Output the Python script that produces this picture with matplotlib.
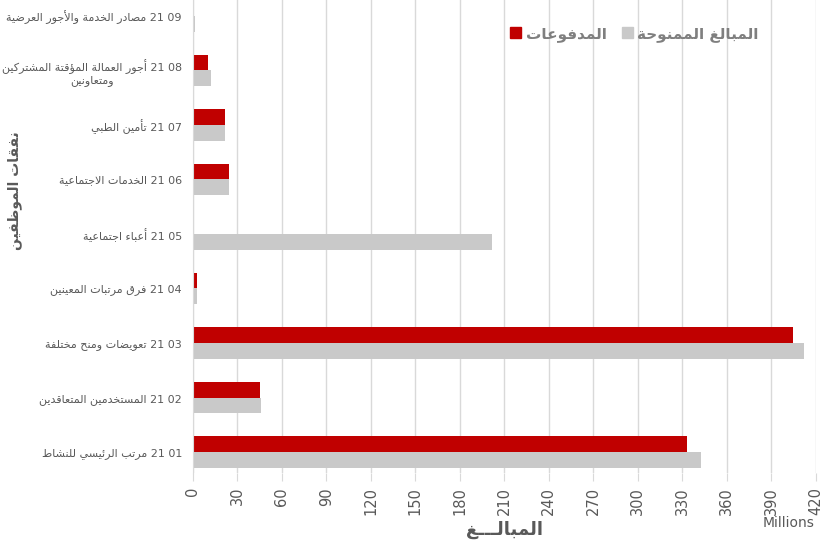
import matplotlib
matplotlib.use("Agg")
import matplotlib.pyplot as plt
from matplotlib.patches import Patch

codes = ["21 01", "21 02", "21 03", "21 04", "21 05", "21 06", "21 07", "21 08", "21 09"]
names = ["مرتب الرئيسي للنشاط", "المستخدمين المتعاقدين", "تعويضات ومنح مختلفة",
         "فرق مرتبات المعينين", "أعباء اجتماعية", "الخدمات الاجتماعية", "تأمين الطبي",
         "أجور العمالة المؤقتة المشتركين\nومتعاونين", "مصادر الخدمة والأجور العرضية"]
granted = [343, 46, 412, 2.5, 201.5, 24.5, 21.5, 12, 1.5]   # المبالغ الممنوحة (millions)
paid = [333, 45, 405, 2.7, 0, 24.5, 21.5, 10, 0.8]          # المدفوعات (millions)
x_ticks = list(range(0, 421, 30))

# --- minimal arabic shaping (matplotlib has no bidi / joining) ---
DUAL = {'ئ': 0xFE89, 'ب': 0xFE8F, 'ت': 0xFE95, 'ث': 0xFE99, 'ج': 0xFE9D, 'ح': 0xFEA1,
        'خ': 0xFEA5, 'س': 0xFEB1, 'ش': 0xFEB5, 'ص': 0xFEB9, 'ض': 0xFEBD, 'ط': 0xFEC1,
        'ظ': 0xFEC5, 'ع': 0xFEC9, 'غ': 0xFECD, 'ف': 0xFED1, 'ق': 0xFED5, 'ك': 0xFED9,
        'ل': 0xFEDD, 'م': 0xFEE1, 'ن': 0xFEE5, 'ه': 0xFEE9, 'ي': 0xFEF1}
RIGHT = {'آ': 0xFE81, 'أ': 0xFE83, 'ؤ': 0xFE85, 'إ': 0xFE87, 'ا': 0xFE8D, 'ة': 0xFE93,
         'د': 0xFEA9, 'ذ': 0xFEAB, 'ر': 0xFEAD, 'ز': 0xFEAF, 'و': 0xFEED, 'ى': 0xFEEF}
LAM_ALEF = {'ا': 0xFEFB, 'أ': 0xFEF7, 'إ': 0xFEF9, 'آ': 0xFEF5}
TATWEEL = 'ـ'


def joins_next(c):
    return c in DUAL or c == TATWEEL


def joins(c):
    return c in DUAL or c in RIGHT or c == TATWEEL


def ar(text):
    out = []
    i = 0
    n = len(text)
    while i < n:
        c = text[i]
        prev = text[i - 1] if i > 0 else ''
        link_prev = bool(prev) and joins_next(prev) and joins(c)
        if c == 'ل' and i + 1 < n and text[i + 1] in LAM_ALEF:
            out.append(chr(LAM_ALEF[text[i + 1]] + (1 if link_prev else 0)))
            i += 2
            continue
        nxt = text[i + 1] if i + 1 < n else ''
        if c in DUAL:
            link_next = bool(nxt) and joins(nxt)
            base = DUAL[c]
            if link_prev and link_next:
                f = base + 3
            elif link_prev:
                f = base + 1
            elif link_next:
                f = base + 2
            else:
                f = base
            out.append(chr(f))
        elif c in RIGHT:
            out.append(chr(RIGHT[c] + (1 if link_prev else 0)))
        else:
            out.append(c)
        i += 1
    return ''.join(out)[::-1]


labels = []
for code, name in zip(codes, names):
    lines = name.split("\n")
    first = ar(lines[0]) + " " + code
    rest = [ar(l) for l in lines[1:]]
    labels.append("\n".join([first] + rest))

plt.rcParams['font.family'] = ['DejaVu Sans']

RED = "#C00000"
GREY = "#C9C9C9"
TXT = "#595959"

fig = plt.figure(figsize=(8.23, 5.45), dpi=100)
ax = fig.add_axes([0.2345, 0.132, 0.7565, 0.868])

y = list(range(len(codes)))
h = 0.29
ax.barh([v - h / 2 for v in y], granted, height=h, color=GREY, zorder=3)
ax.barh([v + h / 2 for v in y], paid, height=h, color=RED, zorder=3)

ax.set_xlim(0, 420)
ax.set_ylim(-0.385, 8.29)
ax.set_xticks(x_ticks)
ax.set_xticklabels([str(t) for t in x_ticks], rotation=90, color=TXT, fontsize=10.5)
ax.set_yticks(y)
ax.set_yticklabels(labels, color=TXT, fontsize=8)
ax.get_yticklabels()[7].set_multialignment('center')
ax.tick_params(axis='y', length=0, pad=8)
ax.tick_params(axis='x', length=6, color="#D9D9D9", pad=4)
ax.grid(axis='x', color="#D9D9D9", linewidth=1, zorder=0)
for s in ['top', 'right', 'bottom']:
    ax.spines[s].set_visible(False)
ax.spines['left'].set_color("#D9D9D9")
ax.spines['left'].set_zorder(4)

ax.set_xlabel(ar("المبالـــغ"), color=TXT, fontsize=13, fontweight='bold', labelpad=2)
ax.xaxis.set_label_coords(0.5, -0.1)
ax.set_ylabel(ar("نفقات الموظفين"), color=TXT, fontsize=10, fontweight='bold', labelpad=0)
ax.yaxis.set_label_coords(-0.275, 0.596)
fig.text(0.958, 0.033, "Millions", color=TXT, fontsize=10, ha='center')

handles = [Patch(color=RED), Patch(color=GREY)]
fig.legend(handles, [ar("المدفوعات"), ar("المبالغ الممنوحة")], ncol=2, frameon=False,
           loc='center', bbox_to_anchor=(0.771, 0.938), handlelength=0.7, handleheight=0.7,
           handletextpad=0.3, columnspacing=1.0,
           prop={'size': 11, 'weight': 'bold'}, labelcolor="#7F7F7F")

fig.savefig("out.png", dpi=100)
